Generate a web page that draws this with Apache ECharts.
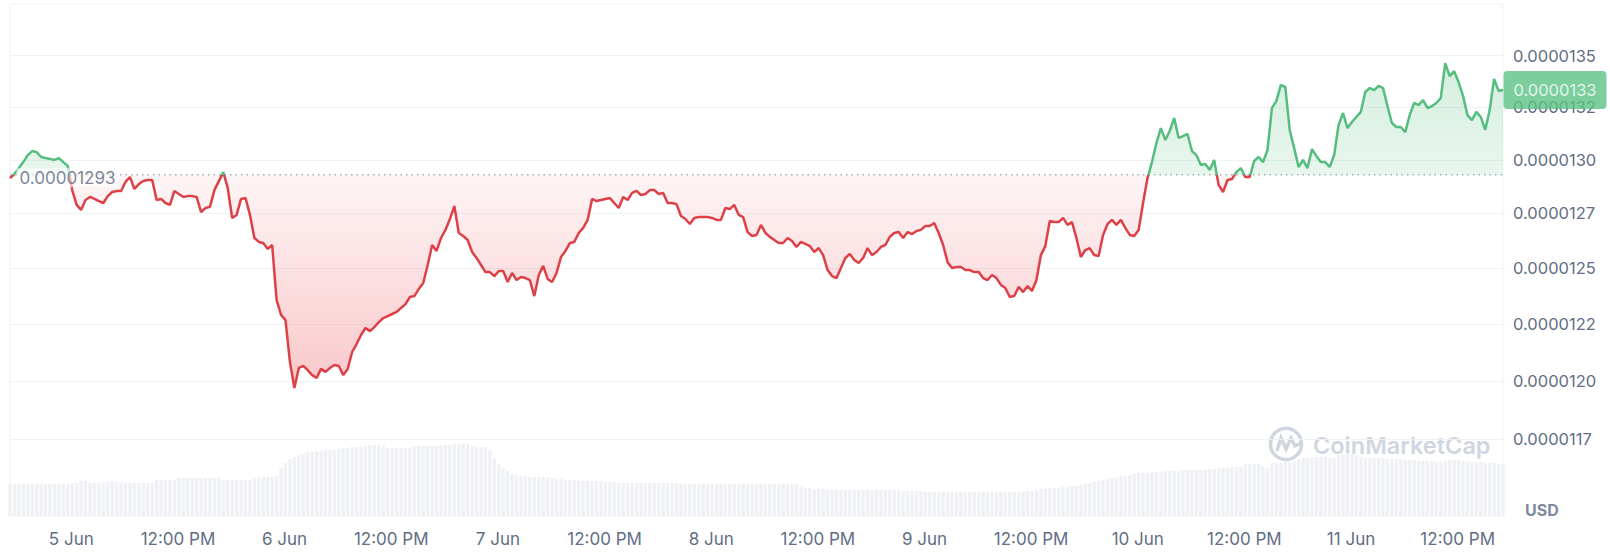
<!DOCTYPE html>
<html>
<head>
<meta charset="utf-8">
<script src="https://cdn.jsdelivr.net/npm/echarts@6/dist/echarts.min.js"></script>
<style>
html,body{margin:0;padding:0;background:#ffffff;}
#chart{width:1610px;height:554px;}
</style>
</head>
<body>
<div id="chart"></div>
<script>
// ---- data ----
// time in hours relative to 5 Jun 00:00, one sample every 30 minutes
const startHour = -6.9;
const stepHours = 0.5;
// reference (open) price, in units of 1e-5 USD
const baselineE5 = 1.293;
// price, in units of 1e-5 USD
const priceE5 = [
1.2914,1.2933,1.2961,1.2989,1.3022,1.3041,1.3036,1.3013,1.3008,1.3004,
1.2999,1.3008,1.2989,1.2971,1.2858,1.2789,1.2766,1.2812,1.2826,1.2817,
1.2807,1.2798,1.2830,1.2849,1.2854,1.2854,1.2896,1.2919,1.2863,1.2886,
1.2900,1.2905,1.2905,1.2812,1.2817,1.2798,1.2789,1.2854,1.2840,1.2826,
1.2830,1.2830,1.2826,1.2756,1.2775,1.2780,1.2858,1.2900,1.2942,1.2868,
1.2729,1.2743,1.2817,1.2821,1.2743,1.2637,1.2619,1.2614,1.2587,1.2605,
1.2356,1.2290,1.2267,1.2082,1.1969,1.2056,1.2065,1.2047,1.2025,1.2013,
1.2052,1.2039,1.2056,1.2069,1.2065,1.2025,1.2052,1.2126,1.2161,1.2201,
1.2232,1.2218,1.2236,1.2258,1.2276,1.2285,1.2294,1.2303,1.2321,1.2338,
1.2370,1.2374,1.2406,1.2433,1.2514,1.2605,1.2578,1.2637,1.2674,1.2724,
1.2784,1.2660,1.2646,1.2628,1.2573,1.2546,1.2514,1.2482,1.2482,1.2464,
1.2487,1.2487,1.2437,1.2478,1.2446,1.2460,1.2455,1.2446,1.2374,1.2469,
1.2510,1.2451,1.2437,1.2478,1.2550,1.2578,1.2614,1.2619,1.2660,1.2683,
1.2720,1.2817,1.2807,1.2812,1.2817,1.2821,1.2798,1.2775,1.2826,1.2812,
1.2845,1.2854,1.2835,1.2840,1.2858,1.2858,1.2840,1.2845,1.2798,1.2798,
1.2793,1.2738,1.2724,1.2701,1.2729,1.2733,1.2733,1.2733,1.2729,1.2720,
1.2720,1.2775,1.2770,1.2789,1.2743,1.2733,1.2664,1.2646,1.2651,1.2697,
1.2660,1.2642,1.2628,1.2614,1.2614,1.2637,1.2623,1.2596,1.2619,1.2610,
1.2600,1.2573,1.2591,1.2559,1.2491,1.2464,1.2455,1.2500,1.2546,1.2564,
1.2537,1.2523,1.2546,1.2591,1.2559,1.2573,1.2596,1.2605,1.2642,1.2660,
1.2664,1.2637,1.2664,1.2655,1.2669,1.2674,1.2692,1.2692,1.2706,1.2660,
1.2605,1.2527,1.2500,1.2505,1.2505,1.2491,1.2491,1.2482,1.2482,1.2455,
1.2446,1.2469,1.2455,1.2424,1.2410,1.2370,1.2374,1.2415,1.2392,1.2419,
1.2397,1.2446,1.2559,1.2600,1.2715,1.2710,1.2710,1.2729,1.2697,1.2710,
1.2637,1.2550,1.2582,1.2591,1.2559,1.2555,1.2651,1.2701,1.2720,1.2697,
1.2720,1.2683,1.2651,1.2646,1.2674,1.2798,1.2914,1.2989,1.3079,1.3150,
1.3093,1.3136,1.3198,1.3103,1.3112,1.3122,1.3041,1.3022,1.2975,1.2980,
1.2952,1.2999,1.2882,1.2849,1.2905,1.2910,1.2942,1.2961,1.2919,1.2919,
1.2994,1.3013,1.2989,1.3046,1.3246,1.3279,1.3357,1.3347,1.3141,1.3055,
1.2966,1.2999,1.2961,1.3050,1.3018,1.2989,1.2989,1.2966,1.3022,1.3165,
1.3222,1.3150,1.3179,1.3203,1.3227,1.3323,1.3342,1.3332,1.3352,1.3342,
1.3255,1.3174,1.3155,1.3155,1.3131,1.3212,1.3270,1.3260,1.3284,1.3246,
1.3255,1.3270,1.3294,1.3463,1.3400,1.3424,1.3371,1.3304,1.3212,1.3188,
1.3227,1.3203,1.3141,1.3236,1.3386,1.3328,1.3332
];
// traded volume (relative units), same 30-minute samples
const volume = [
32,32,32,32,32,32,32,32,32,32,32,32,32,32,
33,33,35,35,
33,33,33,34,34,
35,34,34,
33,33,33,33,33,33,33,
36,36,36,36,36,
38,38,38,38,38,38,38,38,38,38,
36,36,36,36,36,36,36,
38,38,39,39,39,40,
48,53,57,59,61,62,64,
64,65,65,66,66,66,
67,68,68,69,69,69,
70,71,71,71,70,
68,68,68,68,68,68,69,
70,70,70,70,70,71,71,71,
72,72,72,72,
70,69,69,69,
66,58,52,48,45,42,
41,40,40,39,39,39,39,39,38,
37,37,36,36,36,35,35,35,35,35,35,34,34,34,
33,33,33,33,33,33,33,33,33,33,33,33,33,33,
32,32,32,32,32,32,32,32,32,32,32,32,32,32,32,32,32,32,32,32,32,32,32,32,32,32,32,
29,28,28,27,27,27,26,26,26,26,26,26,26,26,26,26,26,26,26,26,26,26,26,
25,25,25,25,25,24,24,24,24,24,24,24,24,24,24,24,24,24,24,24,24,24,24,24,24,24,24,24,25,25,26,
27,27,28,28,28,29,29,30,30,31,32,33,
34,35,36,37,38,39,40,40,41,42,43,
43,43,44,44,44,45,45,45,45,46,46,46,
46,46,46,47,
47,48,48,48,
49,49,49,
52,52,52,52,
50,48,
53,53,53,54,54,55,
57,58,58,58,59,59,59,58,58,
61,62,63,62,61,
59,58,58,
58,58,58,57,57,57,57,56,56,56,55,55,55,55,54,54,
55,56,56,56,55,55,54,54,54,53,53,53,52,52
];
const volumeAxisMax = 512;
// x axis ticks
const xTickHours = [0,12,24,36,48,60,72,84,96,108,120,132,144,156];
const xTickLabels = ['5 Jun','12:00 PM','6 Jun','12:00 PM','7 Jun','12:00 PM','8 Jun','12:00 PM','9 Jun','12:00 PM','10 Jun','12:00 PM','11 Jun','12:00 PM'];
// y axis ticks (units of 1e-5 USD) and their labels
const yTickE5 = [1.175,1.2,1.225,1.25,1.275,1.3,1.325,1.35];
const yTickLabels = ['0.0000117','0.0000120','0.0000122','0.0000125','0.0000127','0.0000130','0.0000132','0.0000135'];
const yMinE5 = 1.14270;
const yMaxE5 = 1.37541;

// ---- chart ----
const GREEN = '#55bd7e';
const RED = '#dd4147';
const TXT = '#616e85';
const FONT = 'Inter, "Noto Sans", sans-serif';

const lnP = v => Math.log(v * 1e-5);        // price axis is logarithmic
const times = priceE5.map((_, i) => startHour + i * stepHours);
const xMax = startHour + (priceE5.length - 1) * stepHours;
const lnBase = lnP(baselineE5);
const lnTicks = yTickE5.map(lnP);
const lnLo = lnP(yMinE5), lnHi = lnP(yMaxE5);
const lastT = times[times.length - 1];
const lastP = priceE5[priceE5.length - 1];

function yLabel(v) {
  for (let k = 0; k < lnTicks.length; k++) if (Math.abs(lnTicks[k] - v) < 1e-7) return yTickLabels[k];
  return '';
}
function xLabel(v) {
  for (let k = 0; k < xTickHours.length; k++) if (Math.abs(xTickHours[k] - v) < 1e-6) return xTickLabels[k];
  return '';
}

const chart = echarts.init(document.getElementById('chart'), null, {renderer: 'svg'});

const option = {
  animation: false,
  backgroundColor: '#ffffff',
  textStyle: {fontFamily: FONT},
  grid: {left: 10, right: 107, top: 4, bottom: 38, show: true, borderColor: '#eff2f5', borderWidth: 1, outerBoundsMode: 'none'},
  xAxis: {
    type: 'value', min: startHour, max: xMax,
    axisLine: {show: false}, axisTick: {show: false, customValues: xTickHours}, splitLine: {show: false},
    axisLabel: {customValues: xTickHours, formatter: xLabel, color: TXT, fontSize: 17, fontFamily: FONT, margin: 14}
  },
  yAxis: [{
    type: 'value', position: 'right', min: lnLo, max: lnHi,
    axisLine: {show: false},
    axisTick: {show: false, customValues: lnTicks},
    splitLine: {show: true, lineStyle: {color: '#eff2f5', width: 1}},
    axisLabel: {customValues: lnTicks, formatter: yLabel, color: TXT, fontSize: 16.5, fontFamily: FONT, margin: 10}
  }, {
    type: 'value', min: 0, max: volumeAxisMax, show: false
  }],
  visualMap: {
    type: 'piecewise', show: false, seriesIndex: 1, dimension: 1,
    pieces: [
      {gt: lnBase, lte: lnHi + 1, color: GREEN},
      {gt: lnLo - 1, lte: lnBase, color: RED}
    ],
    outOfRange: {color: RED}
  },
  graphic: [
    {type: 'circle', shape: {cx: 1286, cy: 444, r: 15.5}, style: {fill: 'none', stroke: '#d0d6e1', lineWidth: 3.5}, silent: true, z: 0},
    {type: 'polyline', shape: {points: [[1277, 451], [1281, 438], [1286, 449], [1291, 438], [1295, 446], [1301, 443]]}, style: {fill: 'none', stroke: '#d0d6e1', lineWidth: 3.5}, silent: true, z: 0},
    {type: 'text', x: 1313, y: 445, style: {text: 'CoinMarketCap', font: '600 23.5px ' + FONT, fill: '#d0d6e1', textVerticalAlign: 'middle'}, silent: true, z: 0},
    {type: 'text', x: 1525, y: 510, style: {text: 'USD', font: 'bold 16px ' + FONT, fill: '#808a9d', textVerticalAlign: 'middle'}, silent: true, z: 10}
  ],
  series: [
    {
      id: 'volume', type: 'bar', xAxisIndex: 0, yAxisIndex: 1,
      data: volume.map((v, i) => [startHour + i * stepHours, v]),
      barWidth: 3.4, itemStyle: {color: '#eff1f5'}, silent: true, z: 1
    },
    {
      id: 'price', type: 'line', xAxisIndex: 0, yAxisIndex: 0,
      data: times.map((t, i) => [t, lnP(priceE5[i])]),
      showSymbol: false, symbol: 'none', smooth: false,
      lineStyle: {width: 2.5},
      areaStyle: {origin: lnBase, color: 'rgba(0,0,0,0)'},
      z: 3
    },
    {
      id: 'baseline', type: 'line', xAxisIndex: 0, yAxisIndex: 0,
      data: [[startHour, lnBase], [xMax, lnBase]],
      showSymbol: false, symbol: 'none', silent: true,
      lineStyle: {color: '#a3acbd', type: [1.5, 4], width: 1.5},
      z: 2
    },
    {
      id: 'baseLabel', type: 'scatter', xAxisIndex: 0, yAxisIndex: 0, clip: false,
      data: [[startHour, lnBase]], symbol: 'circle', symbolSize: 1,
      itemStyle: {color: 'rgba(0,0,0,0)'}, silent: true, z: 6,
      label: {
        show: true, position: 'right', distance: 6, offset: [0, 3],
        formatter: () => (baselineE5 * 1e-5).toFixed(8),
        color: '#58667e', fontSize: 17, fontFamily: FONT,
        backgroundColor: 'rgba(255,255,255,0.78)', padding: [1, 3]
      }
    },
    {
      id: 'lastBadge', type: 'scatter', xAxisIndex: 0, yAxisIndex: 0, clip: false,
      data: [[lastT, lnP(lastP)]],
      symbol: 'path://M4,0 L99,0 Q103,0 103,4 L103,34 Q103,38 99,38 L4,38 Q0,38 0,34 L0,4 Q0,0 4,0 Z',
      symbolKeepAspect: false, symbolSize: [103, 38], symbolOffset: [52, 0],
      itemStyle: {color: '#5bc285'}, silent: true, z: 8,
      label: {
        show: true, position: 'inside', color: '#ffffff', fontSize: 16.5, fontFamily: FONT,
        formatter: () => (Math.floor(lastP * 100 + 1e-9) / 1e7).toFixed(7)
      }
    }
  ]
};
chart.setOption(option);

// area gradient: green above the reference price, red below it
const yTopPx = chart.convertToPixel({yAxisIndex: 0}, lnHi);
const yBasePx = chart.convertToPixel({yAxisIndex: 0}, lnBase);
const yBotPx = chart.convertToPixel({yAxisIndex: 0}, lnP(Math.min.apply(null, priceE5)));
const off = Math.max(0, Math.min(1, (yBasePx - yTopPx) / (yBotPx - yTopPx)));
chart.setOption({
  series: [{
    id: 'price',
    areaStyle: {
      origin: lnBase,
      opacity: 1,
      color: new echarts.graphic.LinearGradient(0, yTopPx, 0, yBotPx, [
        {offset: 0, color: 'rgba(86,189,126,0.32)'},
        {offset: off, color: 'rgba(86,189,126,0.13)'},
        {offset: off, color: 'rgba(234,57,67,0.05)'},
        {offset: 1, color: 'rgba(234,57,67,0.28)'}
      ], true)
    }
  }]
});
</script>
</body>
</html>
